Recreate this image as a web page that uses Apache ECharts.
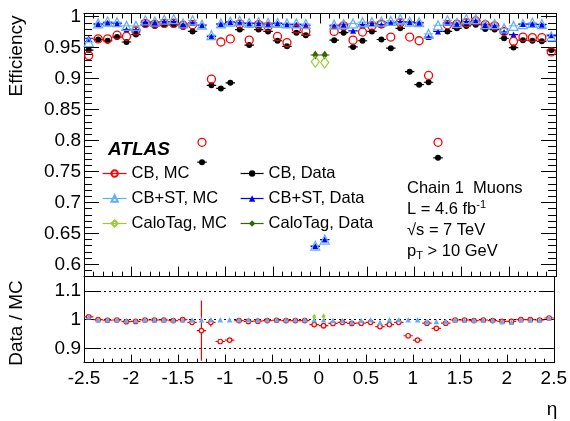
<!DOCTYPE html>
<html><head><meta charset="utf-8">
<script src="https://cdn.jsdelivr.net/npm/echarts@6/dist/echarts.min.js"></script>
<style>html,body{margin:0;padding:0;background:#fff}#c{width:570px;height:421px}</style>
</head><body><div id="c"></div>
<script>
// ---- data (eta bin centres, bin width 0.1) ----
const eta = [-2.45,-2.35,-2.25,-2.15,-2.05,-1.95,-1.85,-1.75,-1.65,-1.55,-1.45,-1.35,-1.25,-1.15,-1.05,-0.95,-0.85,-0.75,-0.65,-0.55,-0.45,-0.35,-0.25,-0.15,-0.05,0.05,0.15,0.25,0.35,0.45,0.55,0.65,0.75,0.85,0.95,1.05,1.15,1.25,1.35,1.45,1.55,1.65,1.75,1.85,1.95,2.05,2.15,2.25,2.35,2.45];
const cbMC = [0.937,0.964,0.964,0.970,0.968,0.977,0.989,0.988,0.989,0.989,0.986,0.987, 0.797,0.899,0.959,0.964,0.988,0.962,0.987,0.984,0.968,0.958,0.980,0.976, null,null, 0.976,0.985,0.962,0.975,0.985,0.988,0.967,0.990,0.967,0.961,0.905,0.797, 0.987,0.988,0.990,0.993,0.987,0.985,0.976,0.960,0.967,0.966,0.966,0.943];
const cbData = [0.946,0.963,0.961,0.967,0.959,0.971,0.987,0.985,0.987,0.987,0.983,0.976, 0.765,0.889,0.884,0.893,0.979,0.954,0.979,0.976,0.961,0.952,0.974,0.970, null,null, 0.962,0.974,0.951,0.961,0.976,0.963,0.949,0.981,0.911,0.890,0.894,0.772, 0.976,0.981,0.985,0.987,0.980,0.979,0.965,0.950,0.962,0.961,0.960,0.946];
const stMC = [0.959,0.989,0.992,0.991,0.985,0.985,0.994,0.992,0.995,0.996,0.989,0.994, 0.987,0.970,0.989,0.992,0.993,0.990,0.991,0.990,0.990,0.989,0.989,0.988, 0.630,0.640, 0.987,0.988,0.989,0.991,0.991,0.992,0.993,0.996,0.992,0.991,0.972,0.986, 0.994,0.990,0.996,0.996,0.988,0.988,0.981,0.985,0.988,0.990,0.988,0.968];
const stData = [0.965,0.988,0.990,0.989,0.979,0.979,0.991,0.990,0.992,0.992,0.987,0.990, 0.986,0.968,0.988,0.991,0.990,0.989,0.989,0.988,0.989,0.987,0.987,0.986, 0.629,0.640, 0.985,0.987,0.977,0.987,0.989,0.987,0.990,0.992,0.991,0.990,0.967,0.976, 0.990,0.988,0.992,0.993,0.987,0.985,0.975,0.971,0.988,0.988,0.987,0.970];
const caloEta = [-0.05, 0.05];
const caloMC = [0.927, 0.926];
const caloData = [0.938, 0.938];
// Data / MC
const ratioCB = [1.010,1.000,0.998,0.999,0.993,0.994,0.999,0.999,0.999,0.997,1.000,0.991, 0.962,0.991,0.924,0.929,0.997,0.994,0.995,0.997,0.998,0.997,0.997,0.997, 0.983,0.979, 0.987,0.991,0.987,0.988,0.991,0.976,0.983,0.991,0.944,0.929,0.988,0.970, 0.988,0.999,0.999,0.997,0.999,0.997,0.994,0.994,1.000,1.000,0.999,1.006];
const ratioCBErr = [0.004,0.003,0.003,0.003,0.003,0.003,0.003,0.003,0.003,0.003,0.003,0.004, 0.105,0.015,0.003,0.003,0.003,0.003,0.003,0.003,0.003,0.003,0.003,0.003, 0.005,0.010, 0.003,0.003,0.003,0.003,0.003,0.003,0.003,0.003,0.003,0.003,0.004,0.006, 0.003,0.003,0.003,0.003,0.003,0.003,0.003,0.003,0.003,0.003,0.003,0.004];
const ratioST = [1.010,1.000,1.000,1.000,0.997,0.997,1.000,1.000,1.000,0.999,1.000,0.999, 1.000,1.000,1.000,1.000,1.000,1.000,1.000,1.000,1.000,1.000,1.000,1.000, 1.000,1.000, 0.997,0.997,0.991,0.997,1.000,0.991,1.000,1.000,1.000,1.000,0.994,0.994, 0.994,0.999,0.999,0.999,0.999,0.999,0.994,0.991,1.000,1.000,0.999,1.006];
const caloRatio = [1.010, 1.012];
const xTicks = [-2.5,-2,-1.5,-1,-0.5,0,0.5,1,1.5,2,2.5];

// ---- styling ----
const FONT = '"Liberation Sans", Arial, Helvetica, sans-serif';
const HALF = 0.05; // half bin width
const C = {red:'#ff0000', black:'#000000', lblue:'#5fb0f2', blue:'#0000ff', lgreen:'#9acd32', dgreen:'#336600'};

const pts = (xs, ys, es) => xs.map((x,i)=> es ? [x, ys[i], es[i]] : [x, ys[i]]).filter(d => d[1] != null);

function markers(name, xs, ys, symbol, size, itemStyle, xi, yi, z) {
  return {type:'line', name, data: pts(xs, ys), xAxisIndex:xi, yAxisIndex:yi,
    symbol, symbolSize:size, showAllSymbol:true, showSymbol:true, silent:true,
    lineStyle:{opacity:0, width:1.2, color:itemStyle.borderColor || itemStyle.color},
    itemStyle, emphasis:{disabled:true}, z, animation:false, clip:true};
}
function hbars(xs, ys, color, xi, yi, z, w) {
  return {type:'custom', data: pts(xs, ys), xAxisIndex:xi, yAxisIndex:yi, z, silent:true, clip:true,
    renderItem(params, api) {
      const x = api.value(0), y = api.value(1);
      const a = api.coord([x - HALF, y]), b = api.coord([x + HALF, y]);
      return {type:'line', shape:{x1:a[0], y1:a[1], x2:b[0], y2:b[1]}, style:{stroke:color, lineWidth:w || 1.2}};
    }};
}
function errbars(xs, ys, es, color, xi, yi, z) {
  return {type:'custom', data: pts(xs, ys, es), xAxisIndex:xi, yAxisIndex:yi, z, silent:true, clip:true,
    renderItem(params, api) {
      const x = api.value(0), y = api.value(1), e = api.value(2);
      const a = api.coord([x - HALF, y]), b = api.coord([x + HALF, y]);
      const t = api.coord([x, y + e]), u = api.coord([x, y - e]);
      return {type:'group', children:[
        {type:'line', shape:{x1:a[0], y1:a[1], x2:b[0], y2:b[1]}, style:{stroke:color, lineWidth:1.2}},
        {type:'line', shape:{x1:t[0], y1:t[1], x2:u[0], y2:u[1]}, style:{stroke:color, lineWidth:1.2}}
      ]};
    }};
}

const axLine = {show:true, onZero:false, lineStyle:{color:'#000', width:1}};
function xAx(grid, pos, labels, major, minor) {
  return {gridIndex:grid, type:'value', position:pos, min:xTicks[0], max:xTicks[xTicks.length-1], interval:0.5,
    axisLine:axLine, axisTick:{show:true, inside:true, length:major, lineStyle:{color:'#000'}},
    minorTick:{show:true, splitNumber:5, length:minor, lineStyle:{color:'#000'}},
    axisLabel:{show:labels, fontSize:19, color:'#000', fontFamily:FONT, margin:7},
    splitLine:{show:false}};
}
function fmtTop(v) {
  const k = Math.round(v * 100);
  if (Math.abs(v * 100 - k) > 1e-6 || k % 5) return '';
  return String(+v.toFixed(2));
}
function fmtRatio(v) {
  const k = Math.round(v * 10);
  if (Math.abs(v * 10 - k) > 1e-6) return '';
  return String(+v.toFixed(1));
}
function yAx(grid, pos, labels, min, max, split, fmt, minorOn, gridLines) {
  return {gridIndex:grid, type:'value', position:pos, min, max, splitNumber:split,
    axisLine:axLine, axisTick:{show:true, inside:true, length:15, lineStyle:{color:'#000'}},
    minorTick:{show:minorOn, splitNumber:5, length:8, lineStyle:{color:'#000'}},
    axisLabel:{show:labels, fontSize:19, color:'#000', fontFamily:FONT, margin:3, formatter:fmt},
    splitLine:{show:gridLines, lineStyle:{color:'#000', type:[2,3], width:1}}};
}

const legendText = {fontSize:16.5, color:'#000', fontFamily:FONT, lineHeight:17};
const option = {
  animation:false,
  backgroundColor:'#fff',
  grid:[
    {left:84, top:13.5, width:472, height:263.2},
    {left:84, top:276.7, width:472, height:86}
  ],
  xAxis:[ xAx(0,'bottom',false,10,5), xAx(0,'top',false,10,5), xAx(1,'bottom',true,8,4) ],
  yAxis:[
    yAx(0,'left',true,0.58,1.005,8,fmtTop,true,false),
    yAx(0,'right',false,0.58,1.005,8,fmtTop,true,false),
    yAx(1,'left',true,0.85,1.15,3,fmtRatio,false,true),
    yAx(1,'right',false,0.85,1.15,3,fmtRatio,false,false)
  ],
  legend:[
    {data:['CB, MC','CB+ST, MC','CaloTag, MC'], orient:'vertical', left:102, top:165, padding:0,
     itemWidth:24, itemHeight:8, itemGap:8, textStyle:legendText, selectedMode:false,
     lineStyle:{opacity:1, width:1.2}},
    {data:['CB, Data','CB+ST, Data','CaloTag, Data'], orient:'vertical', left:240, top:165, padding:0,
     itemWidth:23, itemHeight:8, itemGap:8, textStyle:legendText, selectedMode:false,
     lineStyle:{opacity:1, width:1.2}}
  ],
  graphic:[
    {type:'text', x:17, y:56, rotation:Math.PI/2, style:{text:'Efficiency', font:'19px '+FONT, fill:'#000', align:'center', verticalAlign:'middle'}},
    {type:'text', x:17, y:323, rotation:Math.PI/2, style:{text:'Data / MC', font:'19px '+FONT, fill:'#000', align:'center', verticalAlign:'middle'}},
    {type:'text', x:552, y:410, style:{text:'η', font:'19px '+FONT, fill:'#000', align:'center', verticalAlign:'middle'}},
    {type:'text', x:108, y:150, style:{text:'ATLAS', font:'italic bold 19px '+FONT, fill:'#000', align:'left', verticalAlign:'middle'}},
    {type:'text', x:407, y:188.5, style:{text:'Chain 1  Muons', font:'16.5px '+FONT, fill:'#000', align:'left', verticalAlign:'middle'}},
    {type:'text', x:407, y:209.5, style:{text:'L = 4.6 fb{sup|-1}', font:'16.5px '+FONT, fill:'#000', align:'left', verticalAlign:'middle',
      rich:{sup:{fontSize:11, fontFamily:FONT, fill:'#000', padding:[0,0,9,0]}}}},
    {type:'text', x:407, y:230, style:{text:'√s = 7 TeV', font:'16.5px '+FONT, fill:'#000', align:'left', verticalAlign:'middle'}},
    {type:'text', x:407, y:251, style:{text:'p{sub|T} > 10 GeV', font:'16.5px '+FONT, fill:'#000', align:'left', verticalAlign:'middle',
      rich:{sub:{fontSize:11, fontFamily:FONT, fill:'#000', padding:[10,0,0,0]}}}}
  ],
  series:[
    // top panel: horizontal bin bars
    hbars(eta, stMC, C.lblue, 0, 0, 2, 1),
    hbars(eta, cbData, C.black, 0, 0, 3),
    hbars(eta, stData, C.blue, 0, 0, 3),
    hbars(caloEta, caloData, C.dgreen, 0, 0, 3),
    // top panel markers
    markers('CB, Data', eta, cbData, 'circle', 6, {color:C.black}, 0, 0, 4),
    markers('CB+ST, Data', eta, stData, 'triangle', 6, {color:C.blue}, 0, 0, 4),
    markers('CaloTag, Data', caloEta, caloData, 'diamond', [6,9], {color:C.dgreen}, 0, 0, 4),
    markers('CB, MC', eta, cbMC, 'circle', 8, {color:'rgba(255,255,255,0)', borderColor:C.red, borderWidth:1.3}, 0, 0, 5),
    markers('CB+ST, MC', eta, stMC, 'triangle', 9, {color:'rgba(255,255,255,0)', borderColor:C.lblue, borderWidth:1.2}, 0, 0, 5),
    markers('CaloTag, MC', caloEta, caloMC, 'diamond', [8,11], {color:'rgba(255,255,255,0)', borderColor:C.lgreen, borderWidth:1.2}, 0, 0, 5),
    // ratio panel
    errbars(eta, ratioCB, ratioCBErr, C.red, 2, 2, 3),
    markers('CB ratio', eta, ratioCB, 'circle', 4.5, {color:'#fff', borderColor:C.red, borderWidth:1.2}, 2, 2, 4),
    markers('CB+ST ratio', eta, ratioST, 'triangle', 5.5, {color:C.lblue}, 2, 2, 5),
    markers('CaloTag ratio', caloEta, caloRatio, 'diamond', [4,6], {color:C.lgreen}, 2, 2, 5)
  ]
};
const chart = echarts.init(document.getElementById('c'), null, {renderer:'canvas'});
chart.setOption(option);
</script>
</body></html>
